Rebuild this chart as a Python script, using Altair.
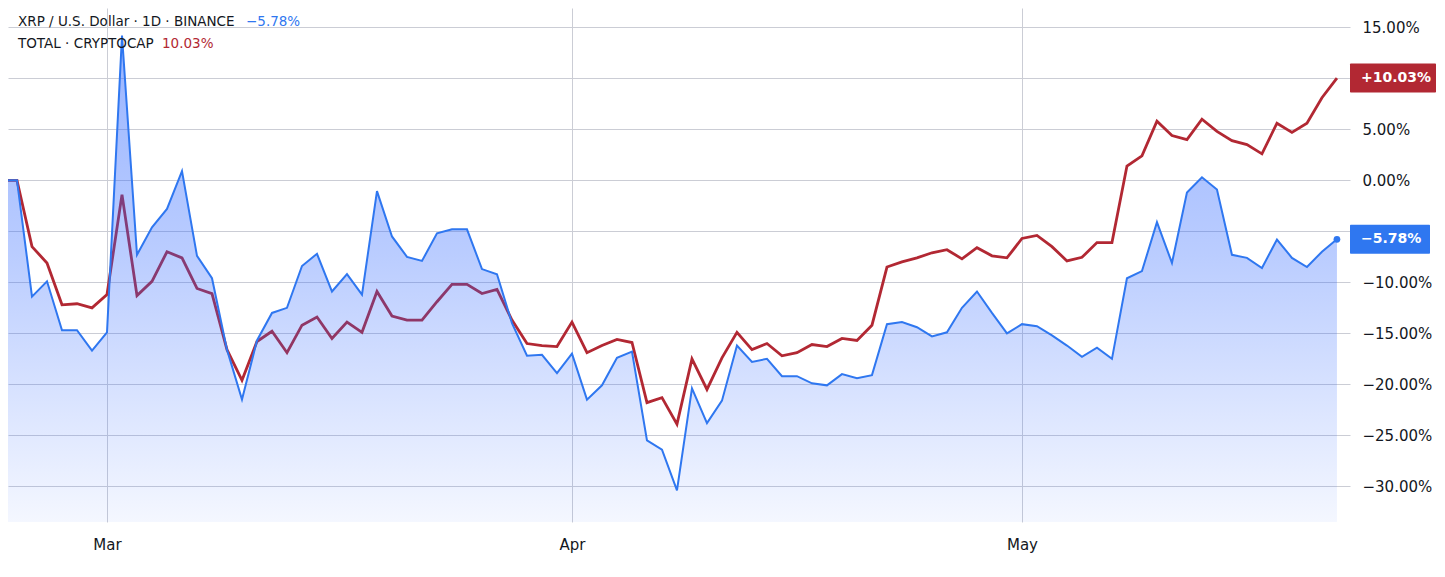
import altair as alt
import pandas as pd

dates = pd.date_range("2025-02-22", "2025-05-22", freq="D").strftime("%Y-%m-%d").tolist()

xrp = [0.0, 0.0, -11.4, -9.9, -14.7, -14.7, -16.7, -14.9, 14.2, -7.3, -4.6, -2.8, 0.9, -7.4,
       -9.6, -16.6, -21.5, -15.7, -13.0, -12.5, -8.4, -7.2, -10.9, -9.2, -11.2, -1.05, -5.5,
       -7.5, -7.9, -5.2, -4.8, -4.8, -8.7, -9.2, -14.0, -17.2, -17.1, -18.9, -17.0, -21.5,
       -20.1, -17.4, -16.8, -25.5, -26.4, -30.4, -20.4, -23.8, -21.6, -16.2, -17.8, -17.5,
       -19.2, -19.2, -19.9, -20.1, -19.0, -19.4, -19.1, -14.1, -13.9, -14.4, -15.3, -14.9,
       -12.5, -10.9, -13.0, -15.0, -14.1, -14.3, -15.2, -16.2, -17.3, -16.4, -17.5, -9.6,
       -8.9, -4.1, -8.1, -1.2, 0.3, -0.9, -7.3, -7.6, -8.6, -5.8, -7.6, -8.5, -7.0, -5.78]

total = [0.0, 0.0, -6.5, -8.1, -12.2, -12.1, -12.5, -11.2, -1.4, -11.3, -9.9, -7.0, -7.6,
         -10.6, -11.1, -16.6, -19.6, -15.8, -14.8, -16.9, -14.2, -13.4, -15.5, -13.9, -14.9,
         -10.9, -13.3, -13.7, -13.7, -11.9, -10.2, -10.2, -11.1, -10.7, -13.7, -16.0, -16.2,
         -16.3, -13.9, -16.9, -16.2, -15.6, -15.9, -21.8, -21.3, -23.9, -17.5, -20.5, -17.4,
         -14.9, -16.6, -16.0, -17.2, -16.9, -16.1, -16.3, -15.5, -15.7, -14.2, -8.5, -8.0,
         -7.6, -7.1, -6.8, -7.7, -6.6, -7.4, -7.6, -5.7, -5.4, -6.5, -7.9, -7.55, -6.1, -6.1,
         1.4, 2.4, 5.8, 4.4, 4.0, 6.0, 4.8, 3.9, 3.5, 2.6, 5.6, 4.7, 5.6, 8.1, 10.03]

y_ticks = [-30, -25, -20, -15, -10, -5, 0, 5, 10, 15]
month_ticks = ["2025-03-01", "2025-04-01", "2025-05-01"]
y_min, y_max = -33.5, 16.9

df = pd.DataFrame({"date": dates, "xrp": xrp, "total": total})
last = pd.DataFrame({"date": [dates[-1]], "xrp": [xrp[-1]], "total": [total[-1]]})

W, H = 1342, 514
BLUE = "#2f77f0"
RED = "#b22833"
TXT = "#131722"
GRID = "#cbcdd5"

x_enc = alt.X(
    "date:T",
    scale=alt.Scale(
        type="utc",
        domain=[alt.DateTime(year=2025, month=2, date=22, hours=9, minutes=36, utc=True),
                alt.DateTime(year=2025, month=5, date=22, hours=20, minutes=53, utc=True)],
    ),
    axis=alt.Axis(
        values=[alt.DateTime(year=2025, month=int(m[5:7]), date=1, utc=True) for m in month_ticks],
        format="%b", grid=True, gridColor=GRID, domain=False, ticks=False,
        labelPadding=15, labelFontSize=15, labelFont="DejaVu Sans", labelColor=TXT,
        title=None,
    ),
)

yscale = alt.Scale(domain=[y_min, y_max], nice=False, zero=False)
yaxis = alt.Axis(
    orient="right", values=y_ticks, labelExpr="format(datum.value, '.2f') + '%'",
    grid=True, gridColor=GRID, domain=False, ticks=False, labelPadding=12,
    labelFontSize=15, labelFont="DejaVu Sans", labelColor=TXT, title=None,
)

base = alt.Chart(df)

red_line = base.mark_line(color=RED, strokeWidth=2.8, clip=True).encode(
    x=x_enc, y=alt.Y("total:Q", scale=yscale, axis=yaxis)
)

grad = alt.Gradient(
    gradient="linear",
    stops=[alt.GradientStop(color="rgba(41,98,255,0.48)", offset=0),
           alt.GradientStop(color="rgba(41,98,255,0.32)", offset=0.45),
           alt.GradientStop(color="rgba(41,98,255,0.05)", offset=1)],
    x1=0, x2=0, y1=0, y2=1,
)
area = base.mark_area(color=grad, clip=True).encode(
    x=x_enc, y=alt.Y("xrp:Q", scale=yscale, axis=yaxis), y2=alt.datum(y_min)
)
blue_line = base.mark_line(color=BLUE, strokeWidth=2, clip=True).encode(
    x=x_enc, y=alt.Y("xrp:Q", scale=yscale, axis=yaxis)
)
dot = alt.Chart(last).mark_circle(color=BLUE, size=45, opacity=1).encode(
    x=x_enc, y=alt.Y("xrp:Q", scale=yscale, axis=yaxis)
)

lab_calc = "(datum.v > 0 ? '+' : '') + format(datum.v, '.2f') + '%'"

def badge(field, color, w):
    b = alt.Chart(last).transform_calculate(
        v=f"datum.{field}", top=f"datum.{field} + 1.42", bot=f"datum.{field} - 1.42",
        label=lab_calc,
    )
    r = b.mark_rect(color=color, clip=False, cornerRadius=1).encode(
        x=alt.value(W), x2=alt.value(W + w),
        y=alt.Y("top:Q", scale=yscale, axis=yaxis), y2="bot:Q",
    )
    t = b.mark_text(color="white", fontSize=14, fontWeight="bold", font="DejaVu Sans",
                    align="left", baseline="middle", clip=False).encode(
        x=alt.value(W + 11), y=alt.Y("v:Q", scale=yscale, axis=yaxis), text="label:N"
    )
    return r + t

legend_rows = pd.DataFrame({
    "name": ["XRP / U.S. Dollar · 1D · BINANCE", "TOTAL · CRYPTOCAP"],
    "val": ["−5.78%", "10.03%"],
})
LF, LS = "DejaVu Sans", 13.5
leg1 = alt.Chart(legend_rows.iloc[[0]]).mark_text(
    align="left", baseline="middle", fontSize=LS, font=LF, color=TXT
).encode(x=alt.value(10), y=alt.value(14), text="name:N")
leg1v = alt.Chart(legend_rows.iloc[[0]]).mark_text(
    align="left", baseline="middle", fontSize=LS, font=LF, color=BLUE
).encode(x=alt.value(238), y=alt.value(14), text="val:N")
leg2 = alt.Chart(legend_rows.iloc[[1]]).mark_text(
    align="left", baseline="middle", fontSize=LS, font=LF, color=TXT
).encode(x=alt.value(10), y=alt.value(36), text="name:N")
leg2v = alt.Chart(legend_rows.iloc[[1]]).mark_text(
    align="left", baseline="middle", fontSize=LS, font=LF, color=RED
).encode(x=alt.value(154), y=alt.value(36), text="val:N")

chart = alt.layer(
    red_line, area, blue_line, dot,
    badge("total", RED, 86), badge("xrp", BLUE, 80),
    leg1, leg1v, leg2, leg2v,
).properties(
    width=W, height=H,
    autosize=alt.AutoSizeParams(type="none"),
    padding={"left": 0, "top": 0, "right": 86, "bottom": 38},
).configure(background="white").configure_view(stroke=None)

chart.save("out.html", embed_options={"renderer": "svg", "actions": False})
